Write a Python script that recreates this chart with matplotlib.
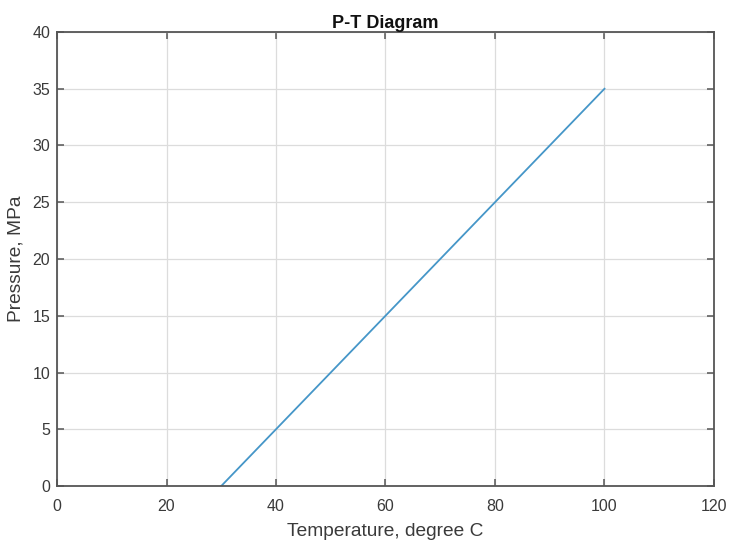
import matplotlib
matplotlib.use("Agg")
import matplotlib.pyplot as plt

# Phase boundary: temperature (deg C) vs pressure (MPa)
temperature = [30, 100]
pressure = [0, 35]

x_ticks = [0, 20, 40, 60, 80, 100, 120]
y_ticks = [0, 5, 10, 15, 20, 25, 30, 35, 40]

plt.rcParams['font.family'] = ['Liberation Sans', 'DejaVu Sans']

fig = plt.figure(figsize=(7.29, 5.44), dpi=100)
ax = fig.add_axes([0.0782, 0.1066, 0.9012, 0.8346])

ax.plot(temperature, pressure, color='#4596c8', linewidth=1.3)

ax.set_xlim(0, 120)
ax.set_ylim(0, 40)
ax.set_xticks(x_ticks)
ax.set_yticks(y_ticks)

ax.grid(True, color='#dcdcdc', linewidth=0.9)
ax.set_axisbelow(True)

for s in ax.spines.values():
    s.set_color('#555555')
    s.set_linewidth(1.3)

ax.tick_params(direction='in', length=5, width=1.1, color='#555555',
               top=True, right=True, labelsize=11.5, labelcolor='#3a3a3a')
ax.tick_params(axis='x', pad=9)
ax.tick_params(axis='y', pad=5)

ax.set_xlabel('Temperature, degree C', fontsize=13.8, color='#3a3a3a', labelpad=7)
ax.set_ylabel('Pressure, MPa', fontsize=13.8, color='#3a3a3a', labelpad=5.5)
ax.set_title('P-T Diagram', fontsize=13, fontweight='bold', color='#111111', pad=3)

fig.savefig('out.png', dpi=100)
